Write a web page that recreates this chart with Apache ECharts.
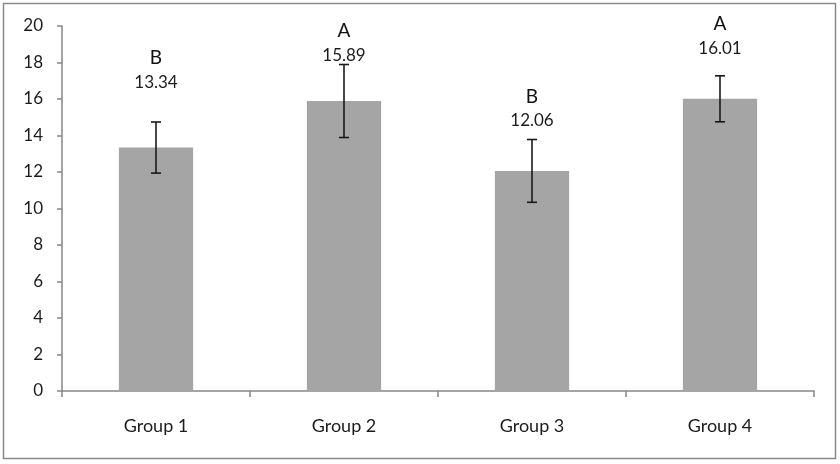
<!DOCTYPE html>
<html>
<head>
<meta charset="utf-8">
<script src="https://cdn.jsdelivr.net/npm/echarts@6/dist/echarts.min.js"></script>
<style>
html,body{margin:0;padding:0;background:#fff;}
#main{width:840px;height:464px;}
</style>
</head>
<body>
<div id="main"></div>
<script>
var categories = ['Group 1', 'Group 2', 'Group 3', 'Group 4'];
var means = [13.34, 15.89, 12.06, 16.01];
var errors = [1.4, 2.0, 1.72, 1.26];
var letters = ['B', 'A', 'B', 'A'];
var labelY = [16.93, 18.41, 14.8, 18.79];
var yTicks = [0, 2, 4, 6, 8, 10, 12, 14, 16, 18, 20];

var chart = echarts.init(document.getElementById('main'), null, {renderer: 'canvas'});
var font = 'Lato, "Open Sans", sans-serif';

var option = {
  animation: false,
  backgroundColor: '#fff',
  graphic: [{
    type: 'rect',
    shape: {x: 3.5, y: 3.5, width: 832, height: 455},
    style: {fill: 'none', stroke: '#8a8a8a', lineWidth: 1.5},
    silent: true
  }],
  grid: {left: 62, right: 26, top: 26, bottom: 73},
  xAxis: {
    type: 'category',
    data: categories,
    axisLine: {lineStyle: {color: '#868686', width: 1.5}},
    axisTick: {show: true, length: 6, lineStyle: {color: '#868686', width: 1.5}},
    axisLabel: {color: '#1c1c1c', fontSize: 18, fontFamily: font, margin: 26}
  },
  yAxis: {
    type: 'value',
    min: yTicks[0],
    max: yTicks[yTicks.length - 1],
    interval: yTicks[1] - yTicks[0],
    axisLine: {show: true, lineStyle: {color: '#868686', width: 1.5}},
    axisTick: {show: true, length: 5, lineStyle: {color: '#868686', width: 1.5}},
    splitLine: {show: false},
    axisLabel: {color: '#1c1c1c', fontSize: 17, fontFamily: font, margin: 19}
  },
  series: [
    {
      type: 'bar',
      data: means,
      barWidth: '39.5%',
      itemStyle: {color: '#a5a5a5'},
      silent: true
    },
    {
      type: 'custom',
      silent: true,
      data: means.map(function (m, i) { return [i, m - errors[i], m + errors[i]]; }),
      renderItem: function (params, api) {
        var lo = api.coord([api.value(0), api.value(1)]);
        var hi = api.coord([api.value(0), api.value(2)]);
        var x = lo[0], cw = 5;
        var st = {stroke: '#1a1a1a', lineWidth: 1.6};
        return {
          type: 'group',
          children: [
            {type: 'line', shape: {x1: x, y1: lo[1], x2: x, y2: hi[1]}, style: st},
            {type: 'line', shape: {x1: x - cw, y1: lo[1], x2: x + cw, y2: lo[1]}, style: st},
            {type: 'line', shape: {x1: x - cw, y1: hi[1], x2: x + cw, y2: hi[1]}, style: st}
          ]
        };
      },
      z: 5
    },
    {
      type: 'custom',
      silent: true,
      data: labelY.map(function (y, i) { return [i, y]; }),
      renderItem: function (params, api) {
        var idx = params.dataIndex;
        var p = api.coord([api.value(0), api.value(1)]);
        return {
          type: 'group',
          children: [
            {type: 'text', style: {x: p[0], y: p[1], text: means[idx].toFixed(2), fill: '#1c1c1c', font: '17px ' + font, textAlign: 'center', textVerticalAlign: 'middle'}},
            {type: 'text', style: {x: p[0], y: p[1] - 24, text: letters[idx], fill: '#111', font: '19px ' + font, textAlign: 'center', textVerticalAlign: 'middle'}}
          ]
        };
      },
      z: 6
    }
  ]
};
chart.setOption(option);
</script>
</body>
</html>
